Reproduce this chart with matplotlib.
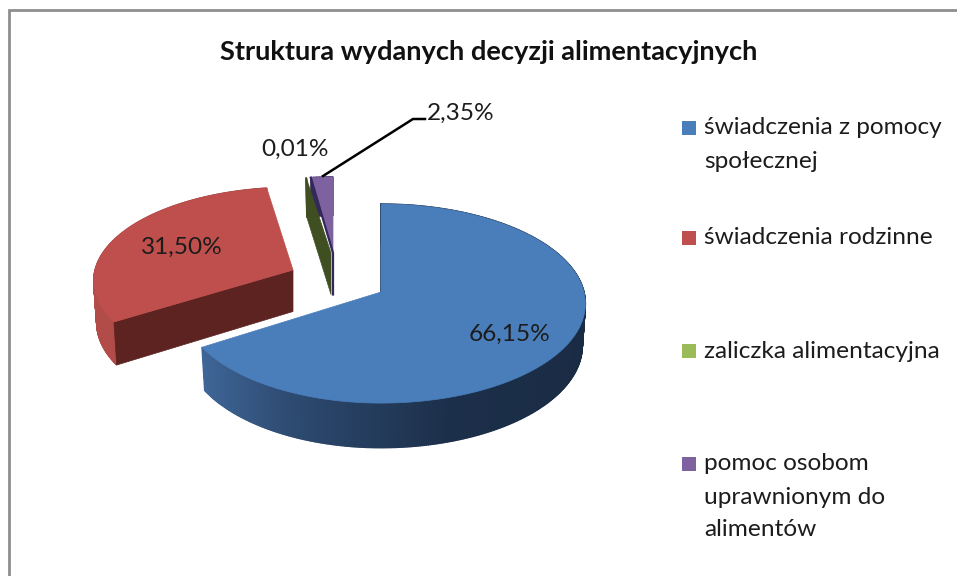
import numpy as np
import matplotlib
matplotlib.use("Agg")
import matplotlib.pyplot as plt
from matplotlib.patches import Polygon, Rectangle

# ---- data ----
title = "Struktura wydanych decyzji alimentacyjnych"
categories = ["świadczenia z pomocy\nspołecznej", "świadczenia rodzinne",
              "zaliczka alimentacyjna", "pomoc osobom\nuprawnionym do\nalimentów"]
values = [66.15, 31.50, 0.01, 2.35]
value_labels = ["66,15%", "31,50%", "0,01%", "2,35%"]

# ---- style ----
face_colors = ["#4a7ebb", "#be4f4c", "#9bbb59", "#7e62a0"]
cut_colors = ["#14263f", "#5c2321", "#3f4f22", "#33285a"]
side_ramps = [
    (["#1a2c44", "#1c2f4a", "#2d4a70", "#41699c"]),
    (["#8a3532", "#8a3532", "#a04440", "#b24c48"]),
    (["#3f4f22"] * 4),
    (["#33285a"] * 4),
]
apexes = [(381, 292), (293, 270), (331, 253), (333, 253)]
scale_x = [1.0, 1.0, 0.94, 0.85]
scale_y = [1.0, 0.94, 0.86, 0.865]
RX, RY, K, DEPTH, K_DEPTH = 203.0, 98.2, 0.116, 41.5, 0.07
FONT = "Lato"
TEXT = "#1c1c1c"

fig = plt.figure(figsize=(9.57, 5.76), dpi=100)
ax = fig.add_axes([0, 0, 1, 1])
ax.set_xlim(0, 957)
ax.set_ylim(576, 0)
ax.axis("off")


def rim(i, theta):
    """Screen points on the rim of slice i for clockwise-from-12 angles."""
    apex = apexes[i]
    u, v = np.sin(theta), np.cos(theta)
    d = 1 + K * v
    dx = RX * scale_x[i] * u / d
    dx = np.where(u < 0, dx * 0.975, dx)
    x = apex[0] + dx
    y = apex[1] - RY * scale_y[i] * v / d
    x_low = apex[0] + dx * 0.985
    return x, x_low, y, y + DEPTH / (1 + K_DEPTH * v)


def rgb(h):
    return np.array(matplotlib.colors.to_rgb(h))


fractions = np.array(values) / sum(values)
edges = np.concatenate([[0], np.cumsum(fractions)]) * 2 * np.pi
order = [2, 3, 1, 0]

for i in order:
    a0, a1 = edges[i], edges[i + 1]
    ap = apexes[i]
    n = max(4, int(np.degrees(a1 - a0) * 2))
    th = np.linspace(a0, a1, n)
    x, xl, yt, yb = rim(i, th)
    ramp = np.array([rgb(c) for c in side_ramps[i]])
    # outer wall, strips shaded across the width of the pie
    pos = -np.sin(th)
    for j in range(n - 1):
        t = (pos[j] + pos[j + 1]) / 2
        c = [np.interp(t, [-1, -0.3, 0.4, 0.9], ramp[:, k]) for k in range(3)]
        ax.add_patch(Polygon([(x[j], yt[j]), (x[j + 1], yt[j + 1]),
                              (xl[j + 1], yb[j + 1]), (xl[j], yb[j])],
                             closed=True, fc=c, ec=c, lw=1.0, zorder=2 + 0.01 * i))
    # cut wall that faces the viewer
    if i != 3:
        cx, cxl, cyt, cyb = rim(i, np.array([a0]))
        ax.add_patch(Polygon([(ap[0], ap[1]), (cx[0], cyt[0]), (cxl[0], cyb[0]),
                              (ap[0], ap[1] + DEPTH)], closed=True,
                             fc=cut_colors[i], ec=cut_colors[i], lw=0.5, zorder=3))
    # top face
    if i != 2:
        pts = [ap] + list(zip(x, yt))
        ax.add_patch(Polygon(pts, closed=True, fc=face_colors[i], ec=face_colors[i],
                             lw=0.5, zorder=4))

# dark seams of the small slice and of the large slice
cx, cxl, cyt, cyb = rim(3, np.array([edges[3]]))
ax.plot([cx[0], apexes[3][0], apexes[3][0]], [cyt[0], apexes[3][1], apexes[3][1] + DEPTH],
        color=cut_colors[3], lw=1.6, zorder=4.5, solid_joinstyle="miter")
cx, cxl, cyt, cyb = rim(0, np.array([edges[0]]))
ax.plot([cx[0], apexes[0][0]], [cyt[0], apexes[0][1]], color=cut_colors[0], lw=1.2, zorder=3.5)

# chart frame
ax.plot([957, 9, 9], [10, 10, 576], color="#8e8e8e", lw=2, zorder=1,
        solid_joinstyle="miter")

# title
ax.text(489, 52, title, ha="center", va="center", family=FONT, weight="bold",
        fontsize=19.6, color="#111111", zorder=6)

# data labels
label_pos = [(510, 334), (182, 247), (295, 149), (461, 113)]
for (lx, ly), s in zip(label_pos, value_labels):
    ax.text(lx, ly, s, ha="center", va="center", family=FONT, fontsize=17.6,
            color=TEXT, zorder=6)
ax.plot([323, 413, 425], [176, 119, 119], color="black", lw=1.8, zorder=5)

# legend
legend_y = [128, 238, 351, 464]
line_h = 33
for y, c, s in zip(legend_y, face_colors, categories):
    ax.add_patch(Rectangle((682, y - 7), 14, 14, fc=c, ec="none", zorder=5))
    for k, line in enumerate(s.split("\n")):
        ax.text(704, y + k * line_h, line, ha="left", va="center", family=FONT,
                fontsize=17.6, color=TEXT, zorder=6)

fig.savefig("out.png", dpi=100, facecolor="white")
